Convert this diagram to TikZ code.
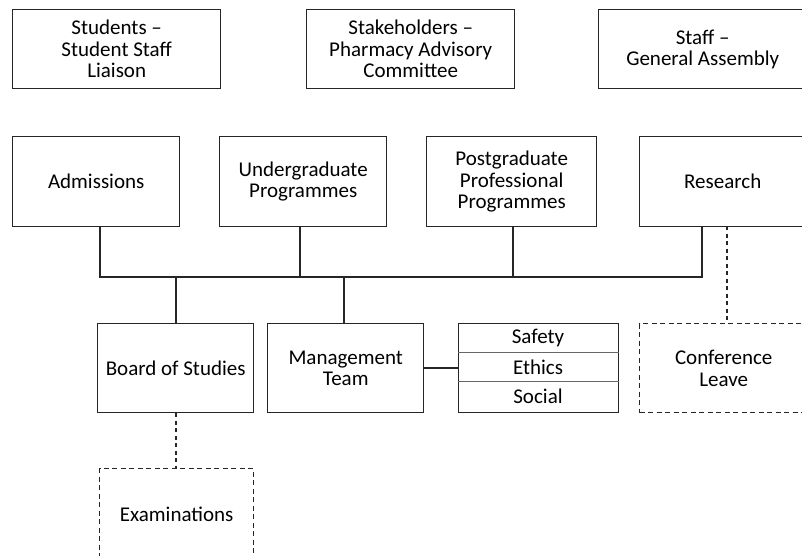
\documentclass[tikz,border=0pt]{standalone}
\usepackage{fontspec}
\setmainfont{Carlito}
\begin{document}
\begin{tikzpicture}[x=1pt,y=-1pt,
  box/.style={draw=black!85, line width=1.4pt, rectangle, align=center, inner sep=0pt,
    anchor=north west, font=\fontsize{21}{21.5}\selectfont},
  dbox/.style={box, dash pattern=on 5pt off 3.5pt},
  conn/.style={draw=black!85, line width=1.9pt},
  dconn/.style={draw=black!85, line width=1.9pt, dash pattern=on 4pt off 3.5pt},
  lbl/.style={inner sep=0pt, align=center, font=\fontsize{21}{21.5}\selectfont}]
\useasboundingbox (0,0) rectangle (802,556);
\clip (0,0) rectangle (802,556);
% top row
\node[box, minimum width=208pt, minimum height=79pt] (stud) at (12,9) {Students –\\Student Staff\\Liaison};
\node[box, minimum width=208pt, minimum height=79pt] (stake) at (306,9) {Stakeholders –\\Pharmacy Advisory\\Committee};
\node[box, minimum width=208pt, minimum height=79pt] (staff) at (598,9) {Staff –\\General Assembly};
% second row
\node[box, minimum width=167pt, minimum height=90pt] (adm) at (12,136) {Admissions};
\node[box, minimum width=167pt, minimum height=90pt] (ug) at (219,136) {Undergraduate\\Programmes};
\node[box, minimum width=170pt, minimum height=90pt] (pg) at (426,136) {Postgraduate\\Professional\\Programmes};
\node[box, minimum width=166pt, minimum height=90pt] (res) at (639,136) {Research};
% third row
\node[box, minimum width=156pt, minimum height=89pt] (bos) at (97,323) {Board of Studies};
\node[box, minimum width=156pt, minimum height=89pt] (mt) at (267,323) {Management\\Team};
\node[box, minimum width=160pt, minimum height=89pt] (comm) at (458,323) {};
\node[lbl] (saf) at (538,338) {Safety};
\node[lbl] (eth) at (538,367) {Ethics};
\node[lbl] (soc) at (538,396) {Social};
\draw[black!60, line width=0.9pt] (comm.west |- 0,352.7) -- (comm.east |- 0,352.7);
\draw[black!60, line width=0.9pt] (comm.west |- 0,381.7) -- (comm.east |- 0,381.7);
\node[dbox, minimum width=168pt, minimum height=89pt] (conf) at (639,323) {Conference\\Leave};
\node[dbox, minimum width=154pt, minimum height=92pt] (exam) at (99,468) {Examinations};
% bus
\coordinate (b1) at (100,277);
\coordinate (b2) at (300,277);
\coordinate (b3) at (513,277);
\coordinate (b4) at (702,277);
\coordinate (d1) at (176,277);
\coordinate (d2) at (344,277);
\draw[conn] (adm.south -| b1) -- (b1) -- (b4) -- (res.south -| b4);
\draw[conn] (ug.south -| b2) -- (b2);
\draw[conn] (pg.south -| b3) -- (b3);
\draw[conn] (d1) -- (bos.north -| d1);
\draw[conn] (d2) -- (mt.north -| d2);
\draw[conn] (mt.east) -- (comm.west);
\coordinate (r1) at (727,226);
\draw[dconn] (r1) -- (conf.north -| r1);
\draw[dconn] (bos.south -| d1) -- (exam.north -| d1);
\end{tikzpicture}
\end{document}
